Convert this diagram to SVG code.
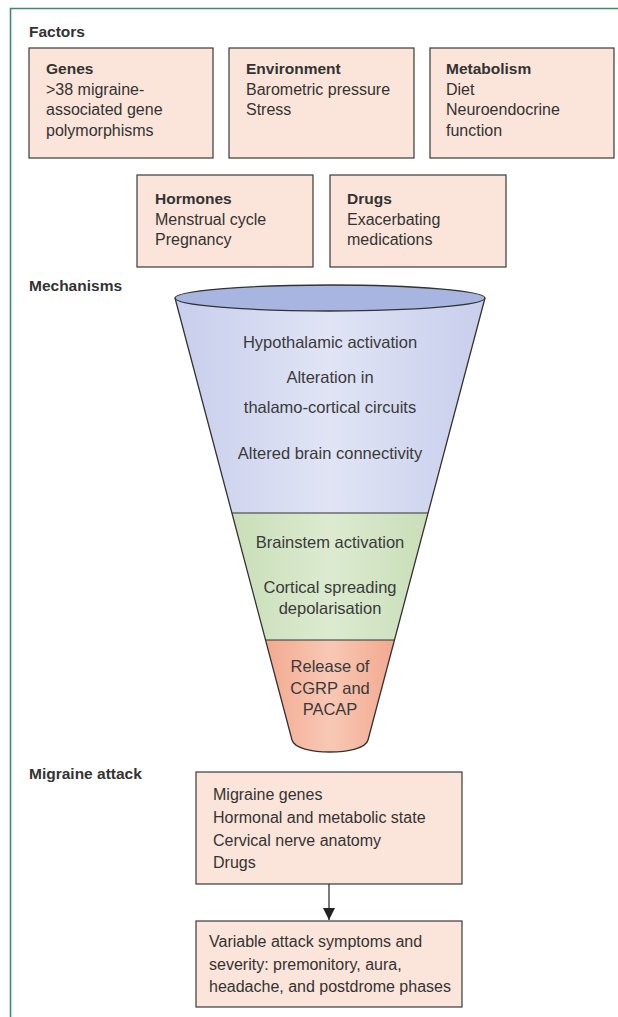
<svg xmlns="http://www.w3.org/2000/svg" width="618" height="1017" viewBox="0 0 618 1017">
<style>
.box{fill:#fbe4d9;stroke:#3a3a3a;stroke-width:1.2}
.t{font-family:"Liberation Sans",Arial,sans-serif;font-size:16px;fill:#333}
.f{font-family:"Liberation Sans",Arial,sans-serif;font-size:16.5px;fill:#3a3a3a;text-anchor:middle}
.b{font-family:"Liberation Sans",Arial,sans-serif;font-size:15.5px;font-weight:bold;fill:#333}
.sec{font-family:"Liberation Sans",Arial,sans-serif;font-size:15.5px;font-weight:bold;fill:#333}
.edge{stroke:#333;stroke-width:1.3;fill:none}
</style>
<defs>
<linearGradient id="gBlue" x1="0" y1="0" x2="1" y2="0">
<stop offset="0" stop-color="#c8ceec"/><stop offset="0.5" stop-color="#e0e4f5"/><stop offset="1" stop-color="#c8ceec"/>
</linearGradient>
<linearGradient id="gGreen" x1="0" y1="0" x2="1" y2="0">
<stop offset="0" stop-color="#c9deb8"/><stop offset="0.5" stop-color="#dcebd0"/><stop offset="1" stop-color="#c9deb8"/>
</linearGradient>
<linearGradient id="gOrange" x1="0" y1="0" x2="1" y2="0">
<stop offset="0" stop-color="#f2a98f"/><stop offset="0.5" stop-color="#f8c8b5"/><stop offset="1" stop-color="#f2a98f"/>
</linearGradient>
<marker id="arr" viewBox="0 0 12 12" refX="12" refY="6" markerWidth="12" markerHeight="12" markerUnits="userSpaceOnUse" orient="auto">
<path d="M0,0 L12,6 L0,12 z" fill="#222"/>
</marker>
</defs>
<rect width="618" height="1017" fill="#fff"/>
<path d="M10.5 1017 V8.5 H618" fill="none" stroke="#3d8c6e" stroke-width="1.6"/>

<text class="sec" x="29" y="37">Factors</text>
<text class="sec" x="29" y="291">Mechanisms</text>
<text class="sec" x="29" y="779">Migraine attack</text>

<g id="genes">
<rect class="box" x="29" y="48" width="184" height="110"/>
<text class="b" x="46" y="74">Genes</text>
<text class="t" x="46" y="94.5">&gt;38 migraine-</text>
<text class="t" x="46" y="115">associated gene</text>
<text class="t" x="46" y="136">polymorphisms</text>
</g>
<g id="environment">
<rect class="box" x="229" y="48" width="185" height="110"/>
<text class="b" x="246" y="74">Environment</text>
<text class="t" x="246" y="94.5">Barometric pressure</text>
<text class="t" x="246" y="115">Stress</text>
</g>
<g id="metabolism">
<rect class="box" x="430" y="48" width="184" height="110"/>
<text class="b" x="446" y="74">Metabolism</text>
<text class="t" x="446" y="94.5">Diet</text>
<text class="t" x="446" y="115">Neuroendocrine</text>
<text class="t" x="446" y="136">function</text>
</g>
<g id="hormones">
<rect class="box" x="137" y="175" width="176" height="92"/>
<text class="b" x="155" y="204">Hormones</text>
<text class="t" x="155" y="224.5">Menstrual cycle</text>
<text class="t" x="155" y="245">Pregnancy</text>
</g>
<g id="drugs">
<rect class="box" x="330" y="175" width="176" height="92"/>
<text class="b" x="347" y="204">Drugs</text>
<text class="t" x="347" y="224.5">Exacerbating</text>
<text class="t" x="347" y="245">medications</text>
</g>

<g id="funnel">
<path d="M175 298 L232 513 L428 513 L485 298 Z" fill="url(#gBlue)"/>
<path d="M232 513 L265.5 640 L394.5 640 L428 513 Z" fill="url(#gGreen)"/>
<path d="M265.5 640 L292 740 C296 756 364 756 368 740 L394.5 640 Z" fill="url(#gOrange)"/>
<ellipse cx="330" cy="298" rx="155" ry="13" fill="#a8b5e0" stroke="#333" stroke-width="1.3"/>
<path d="M175 298 L292 740 C296 756 364 756 368 740 L485 298" fill="none" stroke="#333" stroke-width="1.3"/>
<line x1="232" y1="513" x2="428" y2="513" stroke="#333" stroke-width="1.1"/>
<line x1="265.5" y1="640" x2="394.5" y2="640" stroke="#333" stroke-width="1.1"/>
<text class="f" x="330" y="348">Hypothalamic activation</text>
<text class="f" x="330" y="383">Alteration in</text>
<text class="f" x="330" y="413">thalamo-cortical circuits</text>
<text class="f" x="330" y="459">Altered brain connectivity</text>
<text class="f" x="330" y="548">Brainstem activation</text>
<text class="f" x="330" y="593">Cortical spreading</text>
<text class="f" x="330" y="614">depolarisation</text>
<text class="f" x="330" y="672">Release of</text>
<text class="f" x="330" y="693.5">CGRP and</text>
<text class="f" x="330" y="715">PACAP</text>
</g>

<g id="attack-factors">
<rect class="box" x="196" y="772" width="266" height="112"/>
<text class="t" x="213" y="800">Migraine genes</text>
<text class="t" x="213" y="823">Hormonal and metabolic state</text>
<text class="t" x="213" y="846">Cervical nerve anatomy</text>
<text class="t" x="213" y="868">Drugs</text>
</g>
<g id="symptoms">
<rect class="box" x="196" y="921" width="266" height="86"/>
<text class="t" x="209" y="947">Variable attack symptoms and</text>
<text class="t" x="209" y="969.5">severity: premonitory, aura,</text>
<text class="t" x="209" y="992">headache, and postdrome phases</text>
</g>

<g id="connectors">
<line class="edge" x1="329" y1="884" x2="329" y2="920" marker-end="url(#arr)"/>
</g>
</svg>
